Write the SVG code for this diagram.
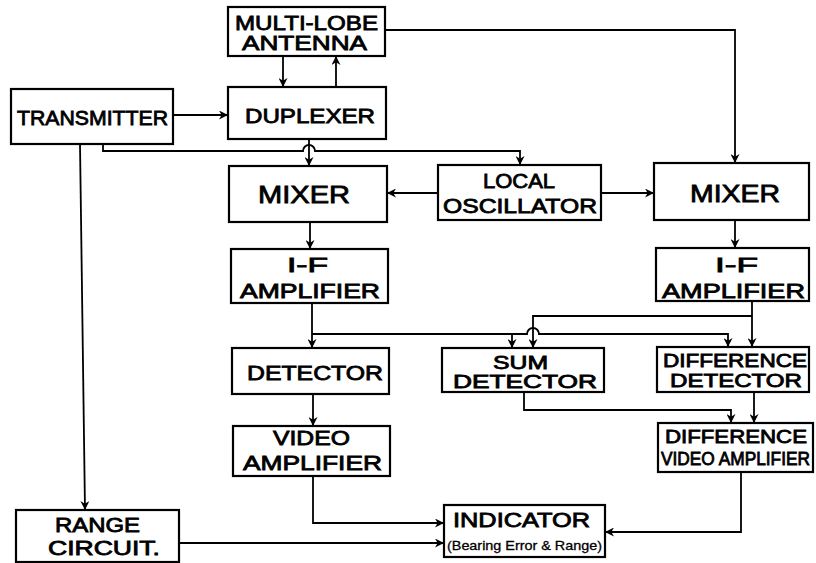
<svg xmlns="http://www.w3.org/2000/svg" width="816" height="563" viewBox="0 0 816 563">
<defs>
<marker id="ah" viewBox="0 0 10 10" refX="10" refY="5" markerWidth="9" markerHeight="9" markerUnits="userSpaceOnUse" orient="auto">
<path d="M0,0 L10,5 L0,10 L3,5 z" fill="#000"/>
</marker>
<style>
.box{fill:#fff;stroke:#000;stroke-width:2.2}
.t{font-family:"Liberation Sans",Arial,sans-serif;font-size:20px;fill:#000;stroke:#000;stroke-width:0.8}
.big{font-size:24px}
.s18{font-size:18px}
.sm{font-size:13px;stroke-width:0.3}
.c path{fill:none;stroke:#000;stroke-width:1.8}
.c .a{marker-end:url(#ah)}
</style>
</defs>
<rect width="816" height="563" fill="#fff"/>
<g class="c" id="connectors">
<path class="a" d="M283,56 V87"/>
<path class="a" d="M336,87 V56"/>
<path class="a" d="M173,115 H228"/>
<path class="a" d="M103,144 V151 H303 a6,6 0 0 1 12,0 H520 V165"/>
<path class="a" d="M309,139 V166"/>
<path class="a" d="M385,30 H735 V163"/>
<path class="a" d="M438,193 H387"/>
<path class="a" d="M601,193 H654"/>
<path class="a" d="M310,222 V249"/>
<path class="a" d="M312,303 V348"/>
<path class="a" d="M312,334 H527 a6,6 0 0 1 12,0 H728 V347"/>
<path class="a" d="M512,334 V348"/>
<path class="a" d="M735,220 V248"/>
<path class="a" d="M752,301 V347"/>
<path class="a" d="M752,316 H533 V348"/>
<path class="a" d="M313,394 V426"/>
<path class="a" d="M524,392 V410 H731 V423"/>
<path class="a" d="M754,392 V423"/>
<path class="a" d="M313,476 V523 H444"/>
<path class="a" d="M179,543 H444"/>
<path class="a" d="M741,472 V532 H605"/>
<path class="a" d="M80,144 L85,510"/>
</g>
<g id="antenna"><rect class="box" x="228" y="7" width="157" height="49"/>
<text class="t" x="235" y="30" textLength="143" lengthAdjust="spacingAndGlyphs">MULTI-LOBE</text>
<text class="t" x="242" y="50" textLength="125" lengthAdjust="spacingAndGlyphs">ANTENNA</text></g>
<g id="transmitter"><rect class="box" x="11" y="89" width="162" height="55"/>
<text class="t" x="17" y="125" textLength="151" lengthAdjust="spacingAndGlyphs">TRANSMITTER</text></g>
<g id="duplexer"><rect class="box" x="228" y="87" width="158" height="52"/>
<text class="t" x="245" y="123" textLength="130" lengthAdjust="spacingAndGlyphs">DUPLEXER</text></g>
<g id="mixer-left"><rect class="box" x="229" y="166" width="158" height="56"/>
<text class="t big" x="258" y="203" textLength="92" lengthAdjust="spacingAndGlyphs">MIXER</text></g>
<g id="local-oscillator"><rect class="box" x="438" y="165" width="163" height="55"/>
<text class="t" x="483" y="188" textLength="72" lengthAdjust="spacingAndGlyphs">LOCAL</text>
<text class="t" x="443" y="213" textLength="154" lengthAdjust="spacingAndGlyphs">OSCILLATOR</text></g>
<g id="mixer-right"><rect class="box" x="654" y="163" width="155" height="57"/>
<text class="t big" x="690" y="202" textLength="90" lengthAdjust="spacingAndGlyphs">MIXER</text></g>
<g id="if-left"><rect class="box" x="231" y="249" width="157" height="54"/>
<text class="t" x="287" y="272" textLength="41" lengthAdjust="spacingAndGlyphs">I-F</text>
<text class="t" x="240" y="298" textLength="140" lengthAdjust="spacingAndGlyphs">AMPLIFIER</text></g>
<g id="if-right"><rect class="box" x="656" y="248" width="153" height="53"/>
<text class="t" x="715" y="272" textLength="43" lengthAdjust="spacingAndGlyphs">I-F</text>
<text class="t" x="662" y="298" textLength="143" lengthAdjust="spacingAndGlyphs">AMPLIFIER</text></g>
<g id="detector"><rect class="box" x="232" y="348" width="157" height="46"/>
<text class="t" x="247" y="380" textLength="136" lengthAdjust="spacingAndGlyphs">DETECTOR</text></g>
<g id="sum-detector"><rect class="box" x="442" y="348" width="162" height="44"/>
<text class="t s18" x="493" y="369" textLength="55" lengthAdjust="spacingAndGlyphs">SUM</text>
<text class="t s18" x="453" y="388" textLength="144" lengthAdjust="spacingAndGlyphs">DETECTOR</text></g>
<g id="difference-detector"><rect class="box" x="657" y="347" width="152" height="45"/>
<text class="t s18" x="663" y="367" textLength="144" lengthAdjust="spacingAndGlyphs">DIFFERENCE</text>
<text class="t s18" x="670" y="387" textLength="132" lengthAdjust="spacingAndGlyphs">DETECTOR</text></g>
<g id="video-amplifier"><rect class="box" x="233" y="426" width="157" height="50"/>
<text class="t" x="273" y="445" textLength="77" lengthAdjust="spacingAndGlyphs">VIDEO</text>
<text class="t" x="243" y="470" textLength="139" lengthAdjust="spacingAndGlyphs">AMPLIFIER</text></g>
<g id="difference-video-amplifier"><rect class="box" x="658" y="423" width="155" height="49"/>
<text class="t s18" x="665" y="443" textLength="142" lengthAdjust="spacingAndGlyphs">DIFFERENCE</text>
<text class="t s18" x="661" y="465" textLength="149" lengthAdjust="spacingAndGlyphs">VIDEO AMPLIFIER</text></g>
<g id="range-circuit"><rect class="box" x="16" y="510" width="163" height="52"/>
<text class="t" x="55" y="532" textLength="85" lengthAdjust="spacingAndGlyphs">RANGE</text>
<text class="t" x="48" y="555" textLength="112" lengthAdjust="spacingAndGlyphs">CIRCUIT.</text></g>
<g id="indicator"><rect class="box" x="444" y="505" width="161" height="52"/>
<text class="t" x="453" y="527" textLength="137" lengthAdjust="spacingAndGlyphs">INDICATOR</text>
<text class="t sm" x="447" y="550" textLength="155" lengthAdjust="spacingAndGlyphs">(Bearing Error &amp; Range)</text></g>
</svg>
